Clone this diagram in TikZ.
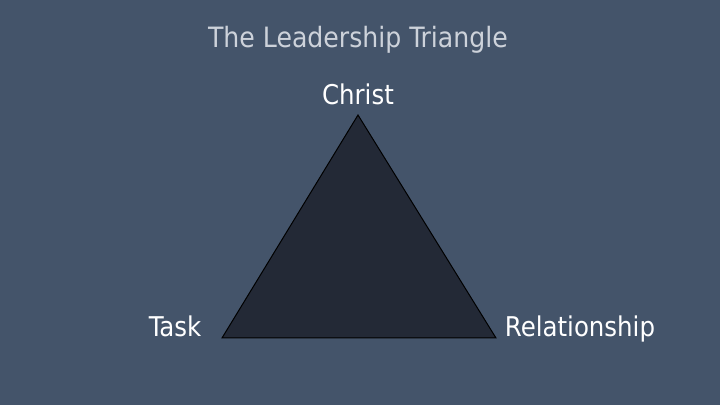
\documentclass[tikz,border=0pt]{standalone}
\usepackage{fontspec}
\setmainfont{DejaVu Sans Condensed}
\usetikzlibrary{positioning}
\definecolor{SlideBg}{HTML}{44546A}
\definecolor{TriFill}{HTML}{232936}
\definecolor{TitleInk}{HTML}{CDD2DA}
\tikzset{
  slide title/.style={text=TitleInk,anchor=base,font=\fontsize{14}{16}\selectfont},
  corner label/.style={text=white,anchor=base,font=\fontsize{13.6}{15}\selectfont,inner sep=0pt},
  tri face/.style={draw=black,fill=TriFill,line width=0.5pt,line join=miter}
}

\begin{document}
\begin{tikzpicture}[x=0.5pt,y=-0.5pt]
  \fill[SlideBg] (0,0) rectangle (720,405);
  \useasboundingbox (0,0) rectangle (720,405);
  \node[slide title] (title) at (358,48) {The Leadership Triangle};

  % triangle corners
  \coordinate (top) at (358,115);
  \coordinate (left) at (222,338);
  \coordinate (right) at (496,338);
  \draw[tri face] (top) -- (left) -- (right) -- cycle;

  \node[corner label] (christ) at (358,105) {Christ};
  \node[corner label] (task) at (175,337) {Task};
  \node[corner label] (relation) at (580,337) {Relationship};
\end{tikzpicture}
\end{document}
